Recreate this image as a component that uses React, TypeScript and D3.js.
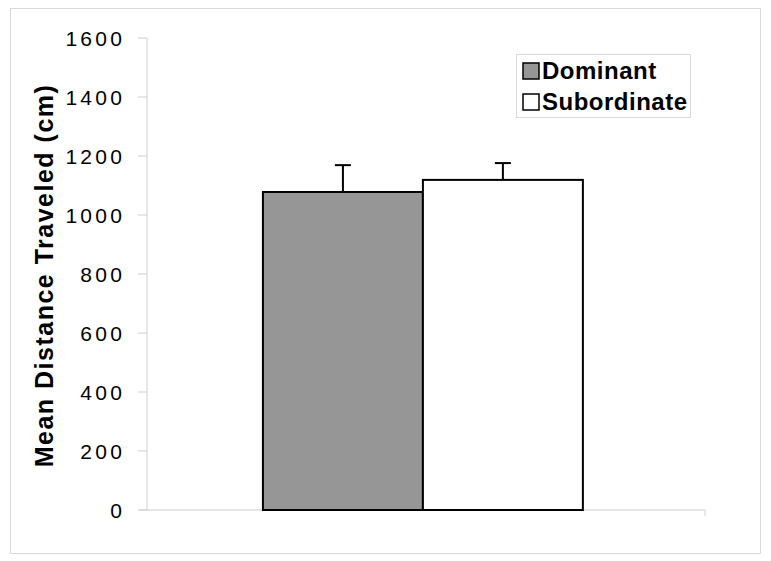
import React from "react";
import * as d3 from "d3";

const categories = ["Group"];
const seriesNames = ["Dominant", "Subordinate"];
const seriesColors = ["#969696", "#ffffff"];
const means = [1078, 1119];
const errors = [91, 57];
const yTicks = [0, 200, 400, 600, 800, 1000, 1200, 1400, 1600];

export default function App() {
  const W = 771, H = 561;
  const left = 147, right = 705, top = 38, bottom = 510;
  const y = d3.scaleLinear().domain([0, 1600]).range([bottom, top]);
  const x0 = d3
    .scaleBand()
    .domain(categories)
    .range([left, right])
    .paddingInner(0)
    .paddingOuter(0.372)
    .align(0.487);
  const x1 = d3.scaleBand().domain(seriesNames).range([0, x0.bandwidth()]);
  const font = "Arial, 'Liberation Sans', Helvetica, sans-serif";
  return (
    <svg width={W} height={H} style={{ position: "absolute", left: 0, top: 0 }} fontFamily={font}>
      <rect x={0} y={0} width={W} height={H} fill="#fff" />
      <rect x={10.5} y={8.5} width={750} height={545} fill="none" stroke="#d9d9d9" strokeWidth={1} />
      {/* axes */}
      <line x1={left} x2={left} y1={top} y2={bottom} stroke="#cfcfcf" />
      <line x1={left - 8} x2={right} y1={bottom} y2={bottom} stroke="#cfcfcf" />
      <line x1={right} x2={right} y1={bottom} y2={bottom + 6} stroke="#cfcfcf" />
      {yTicks.map((t) => (
        <g key={t}>
          <line x1={left - 9} x2={left} y1={y(t)} y2={y(t)} stroke="#cfcfcf" />
          <text x={125.3} y={y(t)} dy="0.36em" textAnchor="end" fontSize={21} fill="#000" letterSpacing={3.3}>
            {t}
          </text>
        </g>
      ))}
      <text
        transform={`translate(53,${(83 + 468) / 2}) rotate(-90)`}
        textAnchor="middle"
        fontSize={25}
        fontWeight="bold"
        letterSpacing={1.5}
      >
        Mean Distance Traveled (cm)
      </text>
      {/* bars */}
      {categories.map((c) => (
        <g key={c} transform={`translate(${x0(c)},0)`}>
          {seriesNames.map((s, i) => {
            const bx = x1(s)!;
            const bw = x1.bandwidth();
            const cx = bx + bw / 2;
            return (
              <g key={s}>
                <line x1={cx} x2={cx} y1={y(means[i])} y2={y(means[i] + errors[i])} stroke="#000" strokeWidth={2} />
                <line x1={cx - 8} x2={cx + 8} y1={y(means[i] + errors[i])} y2={y(means[i] + errors[i])} stroke="#000" strokeWidth={2} />
                <rect x={bx} y={y(means[i])} width={bw} height={y(0) - y(means[i])} fill={seriesColors[i]} stroke="#000" strokeWidth={2} />
              </g>
            );
          })}
        </g>
      ))}
      {/* legend */}
      <rect x={516.5} y={54.5} width={174} height={63} fill="#fff" stroke="#d9d9d9" />
      {seriesNames.map((s, i) => (
        <g key={s} transform={`translate(523,${63 + i * 31})`}>
          <rect x={0} y={0} width={16} height={16} fill={seriesColors[i]} stroke="#000" strokeWidth={1.5} />
          <text x={19} y={16} fontSize={24} fontWeight="bold" letterSpacing={0.5}>
            {s}
          </text>
        </g>
      ))}
    </svg>
  );
}
